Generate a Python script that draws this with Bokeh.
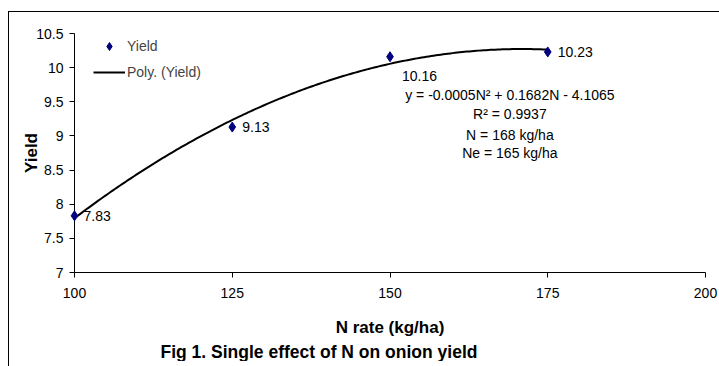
import numpy as np
from bokeh.plotting import figure
from bokeh.layouts import row, column
from bokeh.models import (FixedTicker, NumeralTickFormatter, Legend, LegendItem,
                          Label, Title, ColumnDataSource, Div)
from bokeh.core.properties import value
from bokeh.embed import file_html
from bokeh.resources import INLINE

# ---- data ----
n_rate = [100, 125, 150, 175]
yield_vals = [7.83, 9.13, 10.16, 10.23]
yield_labels = ["7.83", "9.13", "10.16", "10.23"]
x_ticks = [100, 125, 150, 175, 200]
y_ticks = [7, 7.5, 8, 8.5, 9, 9.5, 10, 10.5]
eq_lines = ["y = -0.0005N\u00b2 + 0.1682N - 4.1065", "R\u00b2 = 0.9937",
            "N = 168 kg/ha", "Ne = 165 kg/ha"]

FONT = "Liberation Sans"
NAVY = "#000080"

p = figure(width=710, height=354, frame_width=631, frame_height=239,
           min_border_left=65, min_border_top=21, min_border_right=14,
           x_range=(100, 200), y_range=(7, 10.5),
           output_backend="svg", toolbar_location=None,
           background_fill_color="white", border_fill_color="white")
p.outline_line_color = None
p.grid.visible = False

# trendline (2nd order polynomial fit of the data)
coef = np.polyfit(n_rate, yield_vals, 2)
xs = np.linspace(n_rate[0], n_rate[-1], 200)
trend = p.line(xs, np.polyval(coef, xs), line_color="black", line_width=2)

src = ColumnDataSource(dict(x=n_rate, y=yield_vals, lab=yield_labels,
                            xo=[9, 10, 12, 10], yo=[0, 0, 19, 0]))
pts = p.scatter("x", "y", source=src, marker="diamond", size=10,
                fill_color=NAVY, line_color=NAVY, level="overlay")
p.text("x", "y", text="lab", source=src, x_offset="xo", y_offset="yo",
       text_font_size="14px", text_font=value(FONT), text_baseline="middle",
       text_align="left", text_color="black")

eq_y = [9.605, 9.325, 9.015, 8.745]
for t, yy in zip(eq_lines, eq_y):
    p.add_layout(Label(x=169, y=yy, text=t, text_align="center",
                       text_baseline="middle", text_font=FONT,
                       text_font_size="14px", text_color="black"))

# axes
for ax in (p.xaxis[0], p.yaxis[0]):
    ax.axis_line_color = "black"
    ax.major_tick_line_color = "black"
    ax.major_tick_in = 0
    ax.major_tick_out = 5
    ax.minor_tick_line_color = None
    ax.major_label_text_font = FONT
    ax.major_label_text_font_size = "14px"
    ax.major_label_text_color = "black"
    ax.axis_label_text_font = FONT
    ax.axis_label_text_font_size = "17px"
    ax.axis_label_text_font_style = "bold"
    ax.axis_label_text_color = "black"

p.xaxis.ticker = FixedTicker(ticks=x_ticks)
p.yaxis.ticker = FixedTicker(ticks=y_ticks)
p.yaxis.formatter = NumeralTickFormatter(format="0.[0]")
p.xaxis.formatter = NumeralTickFormatter(format="0")
p.xaxis.axis_label = "N rate (kg/ha)"
p.yaxis.axis_label = "Yield"
p.xaxis.major_label_standoff = 10
p.yaxis.major_label_standoff = 6
p.xaxis.axis_label_standoff = 17
p.yaxis.axis_label_standoff = -8

legend = Legend(items=[LegendItem(label="Yield", renderers=[pts]),
                       LegendItem(label="Poly. (Yield)", renderers=[trend])],
                location=(19, 190), glyph_width=32, glyph_height=20,
                label_height=20, label_standoff=2, spacing=6, padding=0,
                margin=0, border_line_alpha=0, background_fill_alpha=0,
                label_text_font=FONT, label_text_font_size="14px")
p.add_layout(legend)

p.add_layout(Title(text="Fig 1. Single effect of N on onion yield", align="left",
                   offset=86, text_font=FONT, text_font_size="17.5px",
                   text_font_style="bold", text_color="black", standoff=0),
             "below")

# chart-area border (left and top edges; the rest runs off the window)
top_line = Div(text="", width=710, height=1, margin=0,
               styles={"background-color": "black"})
left_line = Div(text="", width=1, height=355, margin=0,
                styles={"background-color": "black"})
layout = row(left_line, column(top_line, p, spacing=0, margin=0),
             spacing=0, margin=0,
             styles={"margin-left": "8px", "margin-top": "11px"})

open("out.html", "w").write(file_html(layout, INLINE))
